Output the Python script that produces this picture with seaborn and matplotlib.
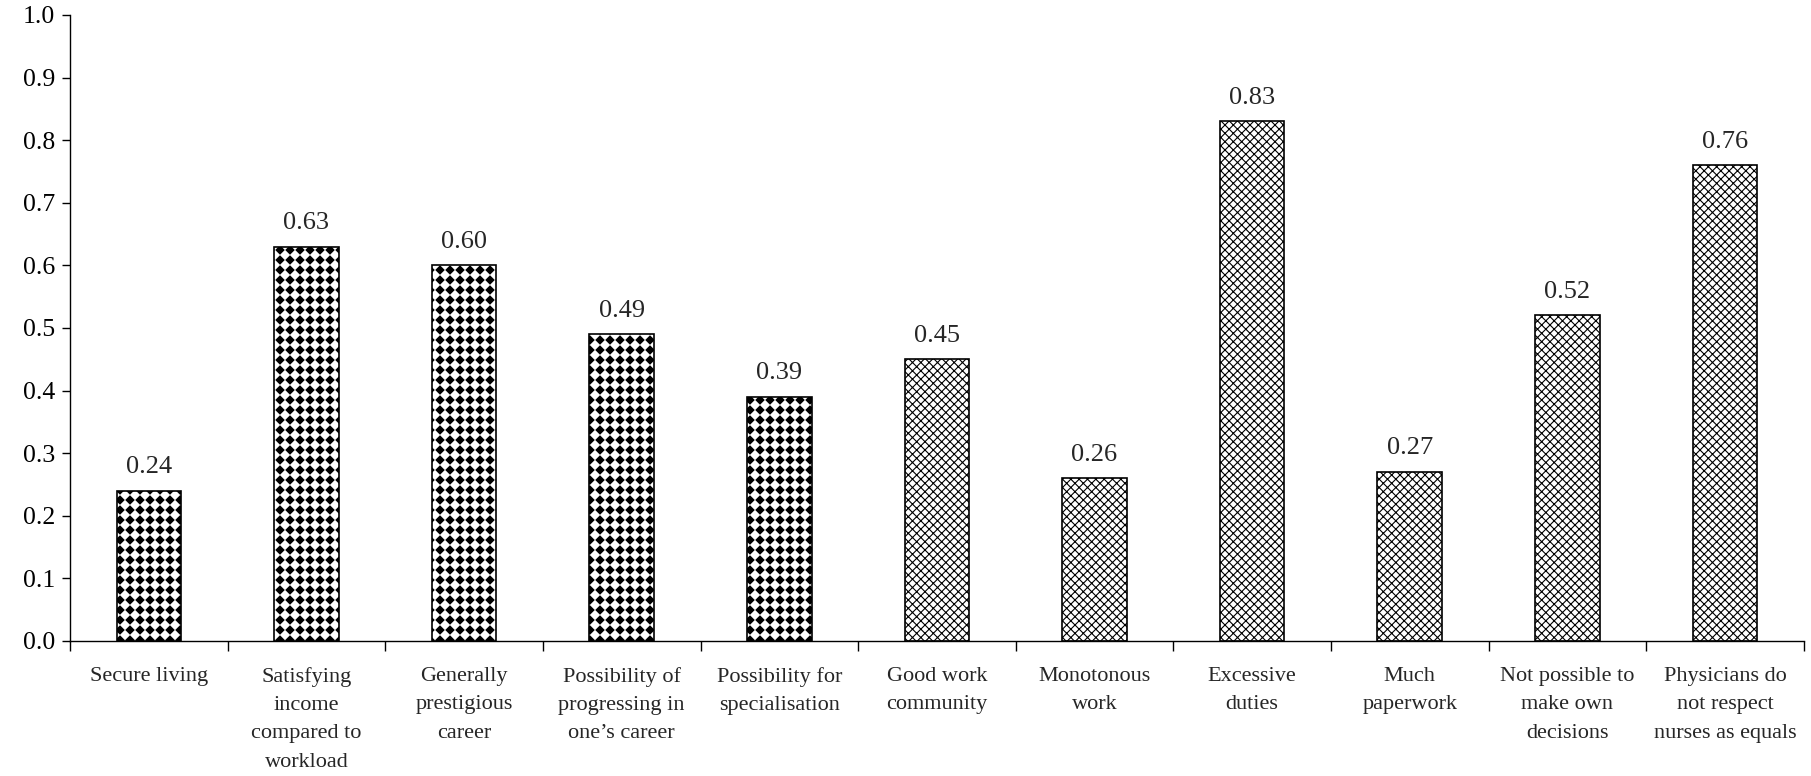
import numpy as np
import pandas as pd
import matplotlib
matplotlib.use("Agg")
import matplotlib.pyplot as plt
import matplotlib.hatch as mhatch
from matplotlib.path import Path
from matplotlib.ticker import FixedLocator, NullFormatter
import seaborn as sns

# ---- data ----
categories = [
    "Secure living",
    "Satisfying\nincome\ncompared to\nworkload",
    "Generally\nprestigious\ncareer",
    "Possibility of\nprogressing in\none\u2019s career",
    "Possibility for\nspecialisation",
    "Good work\ncommunity",
    "Monotonous\nwork",
    "Excessive\nduties",
    "Much\npaperwork",
    "Not possible to\nmake own\ndecisions",
    "Physicians do\nnot respect\nnurses as equals",
]
values = [0.24, 0.63, 0.60, 0.49, 0.39, 0.45, 0.26, 0.83, 0.27, 0.52, 0.76]
groups = ["attracting"] * 5 + ["repelling"] * 6
y_ticks = [0.0, 0.1, 0.2, 0.3, 0.4, 0.5, 0.6, 0.7, 0.8, 0.9, 1.0]


# ---- a hatch of filled diamonds on a square grid (drawn for '*') ----
class DiamondGrid(mhatch.HatchPatternBase):
    def __init__(self, hatch, density):
        self.n = int(round(hatch.count("*") * density * 1.6))
        self.num_vertices = 5 * (self.n + 1) ** 2 if self.n else 0

    def set_vertices_and_codes(self, vertices, codes):
        step = 1.0 / self.n
        r = 0.40 * step
        shape = np.array([[0, -r], [r, 0], [0, r], [-r, 0], [0, -r]])
        shape_codes = [Path.MOVETO, Path.LINETO, Path.LINETO, Path.LINETO,
                       Path.CLOSEPOLY]
        k = 0
        for i in range(self.n + 1):
            for j in range(self.n + 1):
                vertices[k:k + 5] = shape + [i * step, j * step]
                codes[k:k + 5] = shape_codes
                k += 5


mhatch._hatch_types = [t for t in mhatch._hatch_types if t is not mhatch.Stars]
mhatch._hatch_types.append(DiamondGrid)

hatch_for = {"attracting": "*", "repelling": "xxxx"}

# ---- style ----
sns.set_theme(style="white")
plt.rcParams["font.family"] = ["Liberation Serif", "DejaVu Serif"]
plt.rcParams["hatch.linewidth"] = 0.8
plt.rcParams["hatch.color"] = "black"

df = pd.DataFrame({"category": categories, "value": values, "group": groups})

fig = plt.figure(figsize=(18.11, 7.76), dpi=100)
ax = fig.add_axes([0.0387, 0.174, 0.9573, 0.8067])

sns.barplot(data=df, x="category", y="value", color="white",
            edgecolor="black", linewidth=1.2, width=0.41, ax=ax,
            errorbar=None, saturation=1)

for patch, grp in zip(ax.patches, df["group"]):
    patch.set_hatch(hatch_for[grp])
    patch.set_facecolor("white")
    patch.set_edgecolor("black")

ax.bar_label(ax.containers[0], labels=[f"{v:.2f}" for v in values],
             padding=9, fontsize=19)

# axes limits and ticks
n = len(categories)
ax.set_xlim(-0.5, n - 0.5)
ax.set_ylim(0, 1.0)
ax.set_yticks(y_ticks)
ax.set_yticklabels([f"{t:.1f}" for t in y_ticks], fontsize=18.5)
ax.tick_params(axis="y", direction="out", length=6, width=1, pad=5,
               left=True, colors="black")

# boundary ticks on x, labels centred between them
ax.xaxis.set_major_locator(FixedLocator(np.arange(-0.5, n, 1.0)))
ax.xaxis.set_major_formatter(NullFormatter())
ax.xaxis.set_minor_locator(FixedLocator(np.arange(n)))
ax.set_xticklabels(categories, minor=True, fontsize=16, linespacing=1.65)
ax.tick_params(axis="x", which="major", direction="out", length=7,
               width=1, bottom=True, colors="black")
ax.tick_params(axis="x", which="minor", length=0, pad=19, bottom=True)

ax.set_xlabel("")
ax.set_ylabel("")
for side in ["top", "right"]:
    ax.spines[side].set_visible(False)
for side in ["left", "bottom"]:
    ax.spines[side].set_color("black")
    ax.spines[side].set_linewidth(1.0)

fig.savefig("out.png", dpi=100, facecolor="white")
